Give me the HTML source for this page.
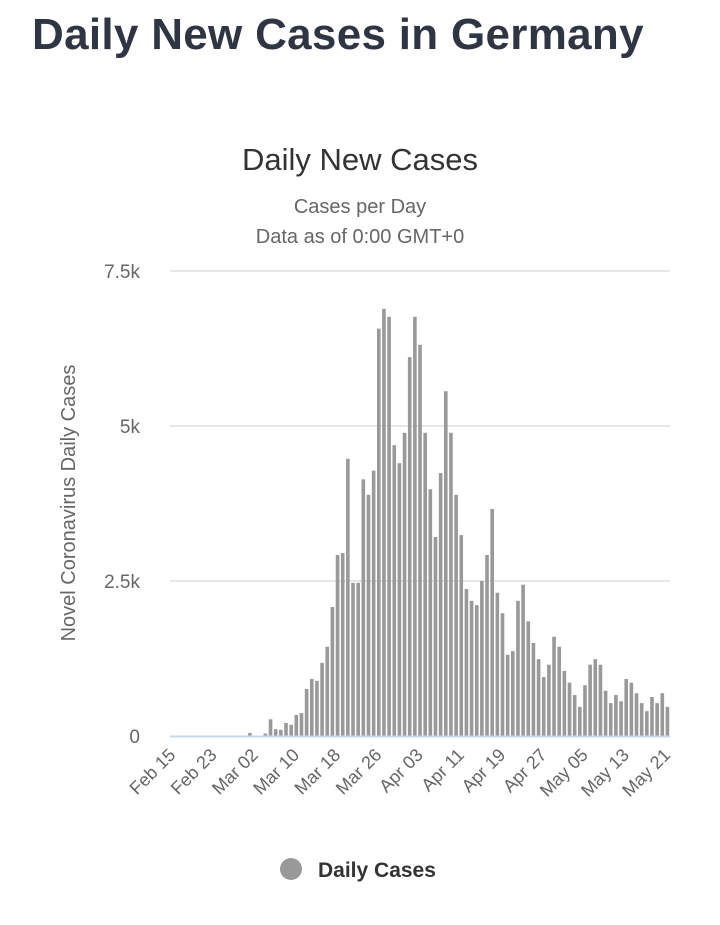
<!DOCTYPE html>
<html><head><meta charset="utf-8"><style>
body{margin:0;background:#fff;font-family:"Liberation Sans",sans-serif;}
#wrap{position:relative;width:720px;height:925px;overflow:hidden;}
h1{position:absolute;left:32px;top:10px;margin:0;font-size:44px;font-weight:bold;color:#2f3542;letter-spacing:0.3px;}
</style></head><body>
<div id="wrap">
<h1>Daily New Cases in Germany</h1>
<svg id="chart" width="720" height="925" style="position:absolute;left:0;top:0" font-family="Liberation Sans, sans-serif"></svg>
</div>
<script>
const values=[0,0,0,0,0,0,0,0,0,0,0,0,0,0,0,50,0,0,40,270,110,100,210,180,340,370,760,920,890,1180,1440,2080,2920,2950,4470,2470,2470,4140,3890,4280,6570,6890,6760,4690,4400,4890,6110,6760,6310,4890,3980,3210,4240,5560,4890,3890,3240,2370,2180,2110,2500,2920,3660,2310,1980,1310,1370,2180,2440,1850,1500,1240,950,1150,1600,1440,1050,860,660,470,820,1150,1240,1150,730,530,660,560,920,860,690,530,400,630,530,690,470];
const xLabels=["Feb 15","Feb 23","Mar 02","Mar 10","Mar 18","Mar 26","Apr 03","Apr 11","Apr 19","Apr 27","May 05","May 13","May 21"];
const yTicks=[0,2500,5000,7500];
const yTickLabels=["0","2.5k","5k","7.5k"];
const svg=document.getElementById('chart');const NS="http://www.w3.org/2000/svg";
const L=170,R=670,T=271,B=736,YMAX=7500;
const step=(R-L)/values.length;
const yS=v=>B-(v/YMAX)*(B-T);
function mk(t,a,txt){const e=document.createElementNS(NS,t);for(const k in a)e.setAttribute(k,a[k]);if(txt!=null)e.textContent=txt;svg.appendChild(e);return e;}
let e;
e=mk('text',{x:360,y:170,'text-anchor':'middle','font-size':31,fill:'#333'},'Daily New Cases');


e=mk('text',{x:360,y:213,'text-anchor':'middle','font-size':20,fill:'#666'},'Cases per Day');


e=mk('text',{x:360,y:243,'text-anchor':'middle','font-size':20,fill:'#666'},'Data as of 0:00 GMT+0');


yTicks.forEach((v,i)=>{
 if(v>0){e=mk('line',{x1:L,x2:R,y1:yS(v),y2:yS(v),stroke:'#e6e6e6','stroke-width':2});
 
 }
 e=mk('text',{x:140,y:yS(v)+7,'text-anchor':'end','font-size':19,fill:'#666'},yTickLabels[i]);
 
 
});
e=mk('text',{x:0,y:0,'text-anchor':'middle','font-size':20,fill:'#666',transform:'translate(75,503) rotate(-90)'},'Novel Coronavirus Daily Cases');


values.forEach((v,i)=>{
 const h=B-yS(v);if(h<=0)return;
 e=mk('rect',{x:L+i*step+0.8,y:yS(v),width:step*0.7,height:h,fill:'#999'});
 
 
});
e=mk('line',{x1:L,x2:R,y1:B+0.5,y2:B+0.5,stroke:'#ccd6eb','stroke-width':2});


xLabels.forEach((t,k)=>{
 const x=L+(k*8+0.5)*step+4;
 e=mk('text',{x:x,y:B+20,'text-anchor':'end','font-size':18,fill:'#666',transform:`rotate(-45 ${x} ${B+20})`},t);
 
 
});
e=mk('circle',{cx:291,cy:869,r:11,fill:'#999'});


e=mk('text',{x:318,y:877,'font-size':21,'font-weight':'bold',fill:'#333'},'Daily Cases');


</script>
</body></html>
